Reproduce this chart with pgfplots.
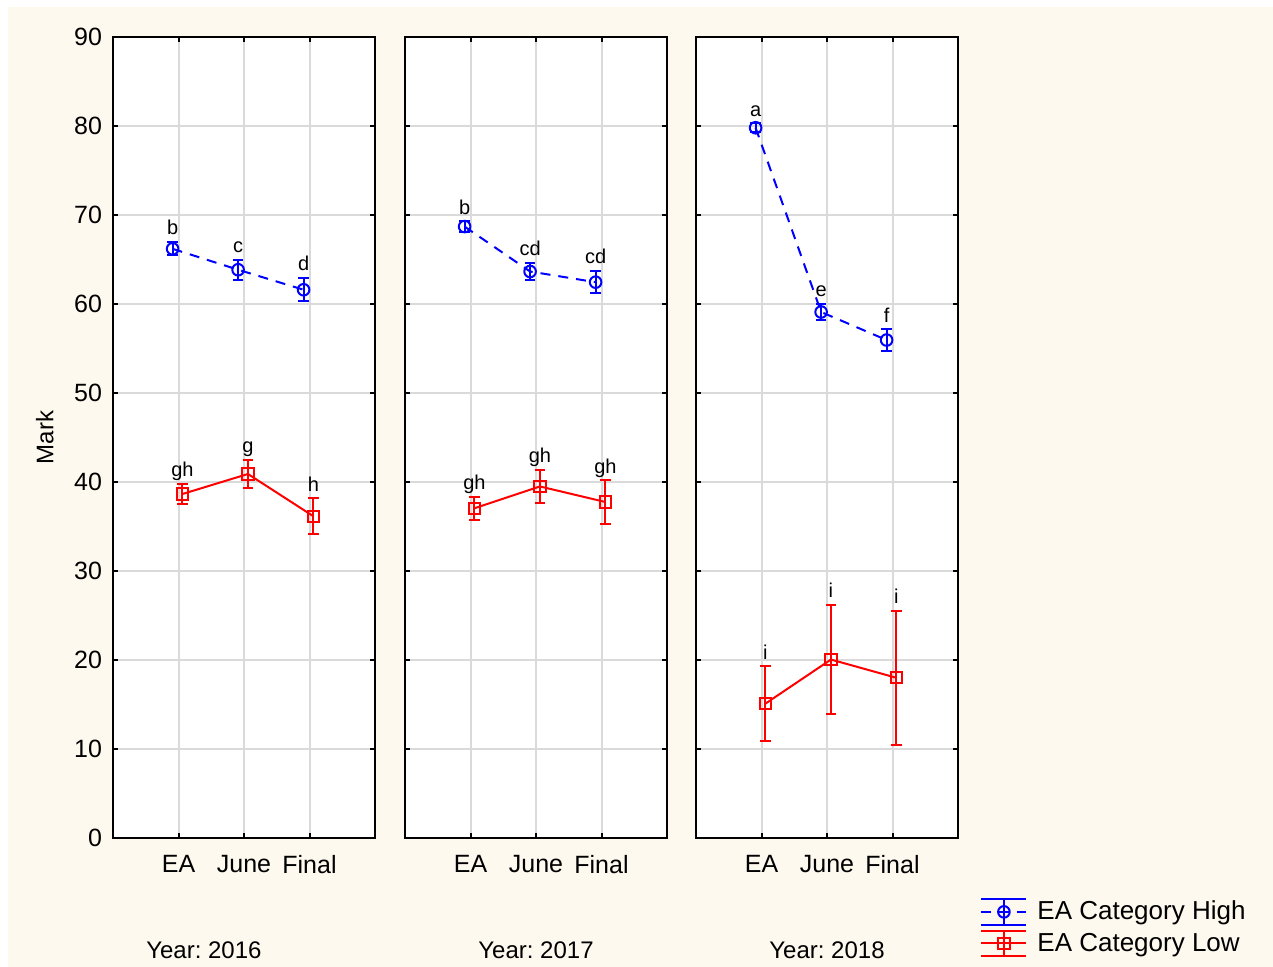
\documentclass[border=0pt]{standalone}
\usepackage{pgfplots}
\pgfplotsset{compat=1.18}
\usepackage{pgfplotstable}
\usepackage{fontspec}
\setmainfont{Liberation Sans}
\definecolor{cream}{RGB}{254,249,238}
\definecolor{gridgray}{RGB}{218,218,218}

\pgfplotstableread{
x y e lab
-0.09 66.2 0.75 b
0.91 63.85 1.1 c
1.91 61.6 1.3 d
}\highA
\pgfplotstableread{
x y e lab
0.06 38.65 1.15 gh
1.06 40.9 1.6 g
2.06 36.15 2.0 h
}\lowA
\pgfplotstableread{
x y e lab
-0.09 68.7 0.6 b
0.91 63.65 1.0 cd
1.91 62.45 1.25 cd
}\highB
\pgfplotstableread{
x y e lab
0.06 37.05 1.3 gh
1.06 39.5 1.85 gh
2.06 37.75 2.45 gh
}\lowB
\pgfplotstableread{
x y e lab
-0.09 79.8 0.5 a
0.91 59.1 0.95 e
1.91 55.95 1.2 f
}\highC
\pgfplotstableread{
x y e lab
0.06 15.1 4.2 i
1.06 20.05 6.15 i
2.06 18.0 7.5 i
}\lowC

\pgfplotsset{
  panel/.style={
    scale only axis, width=131pt, height=400.5pt,
    xmin=-1, xmax=3, ymin=0, ymax=90,
    xtick={0,1,2}, xticklabels={EA,June,Final},
    ytick={0,10,...,90},
    grid=major, major grid style={gridgray, line width=1pt},
    axis line style={line width=1pt},
    major tick style={black, line width=1pt}, major tick length=2.5pt, tick align=inside,
    axis background/.style={fill=white},
    ticklabel style={font=\fontsize{12.5}{14}\selectfont},
    /pgf/number format/assume math mode=true,
    xticklabel style={yshift=-5pt},
    yticklabel style={xshift=-2pt},
    xlabel style={font=\fontsize{12}{14}\selectfont, at={(axis description cs:0.5,-0.14)}, anchor=center},
    clip=false,
    anchor=south west,
  },
  ebleg/.style={legend image code/.code={
    \draw[##1, solid] (0pt,6.4pt) -- (22.5pt,6.4pt);
    \draw[##1, solid] (0pt,-6.4pt) -- (22.5pt,-6.4pt);
    \draw[##1, solid] (11.25pt,-6.4pt) -- (11.25pt,6.4pt);
    \draw[##1] (0pt,0pt) -- (22.5pt,0pt);
    \draw[##1, only marks] plot coordinates {(11.25pt,0pt)};
  }},
  hi/.style={blue, line width=1pt, dash pattern=on 5pt off 4pt, mark=o, mark size=2.9pt,
    mark options={solid, line width=1pt},
    error bars/y dir=both, error bars/y explicit,
    error bars/error bar style={solid, line width=1pt},
    error bars/error mark options={rotate=90, solid, line width=1pt, mark size=2.6pt}},
  lo/.style={red, line width=1pt, mark=square, mark size=2.8pt,
    mark options={solid, line width=1pt},
    error bars/y dir=both, error bars/y explicit,
    error bars/error bar style={solid, line width=1pt},
    error bars/error mark options={rotate=90, solid, line width=1pt, mark size=2.6pt}},
  lab/.style={draw=none, forget plot, nodes near coords, point meta=explicit symbolic,
    nodes near coords style={font=\fontsize{10}{11}\selectfont, anchor=base, yshift=3.6pt, inner sep=0pt, black}},
}

\begin{document}
\frenchspacing
\begin{tikzpicture}
\useasboundingbox (0,0) rectangle (636.5pt,483.5pt);
\fill[white] (0,0) rectangle (636.5pt,483.5pt);
\fill[cream] (4pt,0) rectangle (636.5pt,480pt);

\begin{axis}[panel, at={(56.5pt,64.5pt)},
  ylabel={Mark}, ylabel style={font=\fontsize{12}{14}\selectfont, at={(axis description cs:-0.26,0.5)}, anchor=center},
  xlabel={Year: 2016}, xlabel style={at={(axis description cs:0.347,-0.14)}}]
\addplot[hi] table[x=x,y=y,y error=e]{\highA};
\addplot[lo] table[x=x,y=y,y error=e]{\lowA};
\addplot[lab] table[x=x, y expr=\thisrow{y}+\thisrow{e}, meta=lab]{\highA};
\addplot[lab] table[x=x, y expr=\thisrow{y}+\thisrow{e}, meta=lab]{\lowA};
\end{axis}

\begin{axis}[panel, at={(202.5pt,64.5pt)}, yticklabels={},
  xlabel={Year: 2017}]
\addplot[hi] table[x=x,y=y,y error=e]{\highB};
\addplot[lo] table[x=x,y=y,y error=e]{\lowB};
\addplot[lab] table[x=x, y expr=\thisrow{y}+\thisrow{e}, meta=lab]{\highB};
\addplot[lab] table[x=x, y expr=\thisrow{y}+\thisrow{e}, meta=lab]{\lowB};
\end{axis}

\begin{axis}[panel, at={(348pt,64.5pt)}, yticklabels={},
  xlabel={Year: 2018},
  legend style={draw=none, fill=none, at={(axis description cs:1.084,-0.0745)}, anchor=north west,
    font=\fontsize{13}{15}\selectfont, row sep=2pt, column sep=4pt, inner sep=0pt,
    nodes={inner sep=1pt}},
  legend cell align=left]
\addplot[ebleg, hi] table[x=x,y=y,y error=e]{\highC};
\addlegendentry{EA Category High}
\addplot[ebleg, lo] table[x=x,y=y,y error=e]{\lowC};
\addlegendentry{EA Category Low}
\addplot[lab] table[x=x, y expr=\thisrow{y}+\thisrow{e}, meta=lab]{\highC};
\addplot[lab] table[x=x, y expr=\thisrow{y}+\thisrow{e}, meta=lab]{\lowC};
\end{axis}
\end{tikzpicture}
\end{document}
